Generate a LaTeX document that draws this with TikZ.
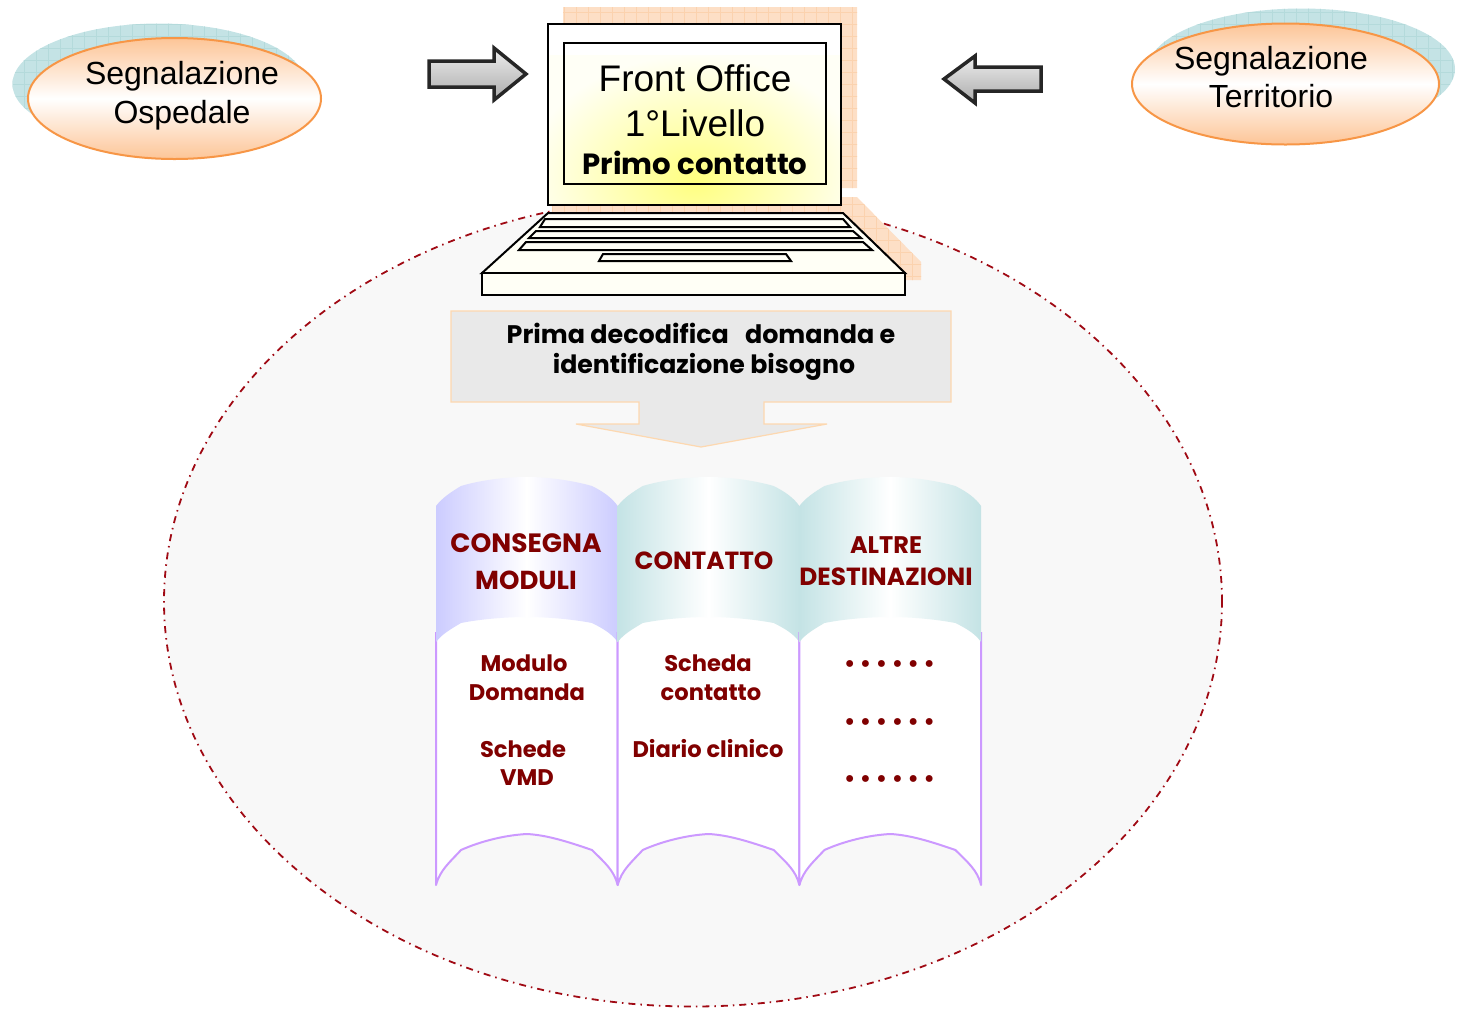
\documentclass[tikz,border=0pt]{standalone}
\usepackage{fontspec}
\setmainfont{Liberation Sans}
\newfontfamily\gothic{Poppins}
\usetikzlibrary{positioning}
\usetikzlibrary{shapes.geometric}
\definecolor{darkred}{HTML}{800000}
\definecolor{dashred}{HTML}{A00A14}
\definecolor{lilac}{HTML}{CC99FF}
\definecolor{periwinkle}{HTML}{CCCCFF}
\definecolor{aqua}{HTML}{C4E3E5}
\definecolor{peach}{HTML}{FDDFC6}
\definecolor{peachline}{HTML}{FBD2AE}
\definecolor{aqualine}{HTML}{B4DADB}
\definecolor{orangeline}{HTML}{F79646}
\definecolor{orangefill}{HTML}{FDC597}
\definecolor{paper}{HTML}{F8F8F8}
\definecolor{boxgray}{HTML}{E9E9E9}
\definecolor{boxline}{HTML}{FDD8B0}
\definecolor{cream}{HTML}{FFFFF6}
\tikzset{
  big/.style={font=\fontsize{37}{37}\selectfont, inner sep=0pt},
  mid/.style={font=\fontsize{32}{32}\selectfont, inner sep=0pt},
  bold/.style={font=\gothic\bfseries\fontsize{#1}{#1}\selectfont, inner sep=0pt},
  entry/.style={bold=22.6, darkred, inner sep=0pt},
  oval/.style={ellipse, draw=orangeline, line width=2pt, top color=orangefill, bottom color=orangefill, middle color=white, inner sep=0pt},
  blockarrow/.style={draw=black!85, line width=3.5pt, miter limit=4, top color=black!7, bottom color=black!33},
  key/.style={draw=black, line width=2pt, fill=cream}
}
\begin{document}
\begin{tikzpicture}[x=1pt, y=-1pt]
  \useasboundingbox (0,0) rectangle (1461,1013);

  % the big dashed area
  \node[ellipse, draw=dashred, line width=1.8pt, dash pattern=on 7pt off 5pt on 1.5pt off 5pt, fill=paper,
        minimum width=1058pt, minimum height=810pt, inner sep=0pt] (area) at (693,601.5) {};

  % left and right ovals
  \foreach \x/\y/\sx/\c/\r/\id in {174.5/98.5/159/84/146.5/ospedale, 1285.5/84/1301.5/69/153.5/territorio} {
    \begin{scope}
      \clip (\sx,\c) ellipse [x radius=\r pt, y radius=60.5pt];
      \fill[aqua] (\sx-160,\c-70) rectangle (\sx+160,\c+70);
      \draw[aqualine, step=12pt, line width=0.5pt] (\sx-160,\c-70) grid (\sx+160,\c+70);
    \end{scope}
    \node[oval, minimum width=2*\r pt, minimum height=121pt] (\id) at (\x,\y) {};
  }
  \node[mid] (ospA) at (182,76) {Segnalazione};
  \node[mid] (ospB) at (182,115) {Ospedale};
  \node[mid] (terA) at (1271,61) {Segnalazione};
  \node[mid] (terB) at (1271,96) {Territorio};

  % arrows
  \path[blockarrow] (429,61) -- (494,61) -- (494,48) -- (526,74) -- (494,100) -- (494,87) -- (429,87) -- cycle;
  \path[blockarrow] (1041,67) -- (975,67) -- (975,56) -- (944,79) -- (975,103) -- (975,91) -- (1041,91) -- cycle;

  % laptop shadow
  \begin{scope}
    \clip (563,7) -| (857,188) -| (841,197) -- (857,197) -- (921,262) -- (921,280) -- (905,280) -- (905,273) -- (835,213) -- (552,213) -- (552,205) -- (841,205) -- (841,24) -- (563,24) -- cycle;
    \fill[peach] (540,0) rectangle (930,290);
    \draw[peachline, step=12pt, line width=0.5pt] (540,0) grid (930,290);
  \end{scope}

  % laptop screen
  \begin{scope}
    \clip (548,24) rectangle (841,205);
    \shade[inner color=yellow!50, outer color=cream] (695-170,180-125) rectangle (695+170,180+125);
  \end{scope}
  \draw[black, line width=2pt] (548,24) rectangle (841,205);
  \draw[black, line width=1.5pt] (564,43) rectangle (826,184);

  \node[big] (front) at (695,78) {Front Office};
  \node[big] (livello) at (695,123) {1°Livello};
  \node[bold=29.2] (primo) at (695,163) {Primo contatto};

  % keyboard
  \path[draw=black, line width=2pt, fill=cream] (548,213) -- (843,213) -- (905,273) -- (482,273) -- cycle;
  \path[draw=black, line width=2pt, fill=cream] (482,273) rectangle (905,295);
  \foreach \ax/\bx/\cx/\dx/\ya/\yb in {545/843/850/540/219/227, 536/853/861/529/231/238, 526/863/872/519/242/250, 603/786/791/599/254/261}
    \path[key] (\ax,\ya) -- (\bx,\ya) -- (\cx,\yb) -- (\dx,\yb) -- cycle;

  % callout
  \path[draw=boxline, line width=1.2pt, fill=boxgray] (451,311) -- (951,311) -- (951,402) -- (764,402) -- (764,424) -- (827,424) -- (701,447) -- (576,424) -- (639,424) -- (639,402) -- (451,402) -- cycle;
  \node[bold=25.4] (decodA) at (701,333) {Prima decodifica\ \ \ domanda e};
  \node[bold=25.2] (decodB) at (704,366.5) {identificazione bisogno};

  % the three pages
  \def\w{181.7};
  \foreach \i/\col in {0/periwinkle, 1/aqua, 2/aqua} {
    \def\dx{\i*\w + 436};
    \fill[white] (\dx,610) -- (\dx+\w,610) -- (\dx+\w,885)
      .. controls (\dx+\w-4,870) and (\dx+\w-14,862) .. (\dx+156,850)
      .. controls (\dx+130,841) and (\dx+110,835) .. (\dx+91,834)
      .. controls (\dx+70,835) and (\dx+45,841) .. (\dx+25,850)
      .. controls (\dx+14,862) and (\dx+4,870) .. (\dx,885) -- cycle;
    \draw[lilac, line width=2pt, line join=round] (\dx,632) -- (\dx,885)
      .. controls (\dx+4,870) and (\dx+14,862) .. (\dx+25,850)
      .. controls (\dx+45,841) and (\dx+70,835) .. (\dx+91,834)
      .. controls (\dx+110,835) and (\dx+130,841) .. (\dx+156,850)
      .. controls (\dx+168,862) and (\dx+178,870) .. (\dx+\w,885) -- (\dx+\w,632);
    \shade[left color=\col, right color=\col, middle color=white]
      (\dx,506) .. controls (\dx+6,498) and (\dx+15,492) .. (\dx+25,486)
      .. controls (\dx+45,480) and (\dx+70,477) .. (\dx+91,477)
      .. controls (\dx+110,477) and (\dx+135,480) .. (\dx+156,486)
      .. controls (\dx+168,492) and (\dx+176,498) .. (\dx+\w,506)
      -- (\dx+\w,642)
      .. controls (\dx+176,634) and (\dx+168,629) .. (\dx+156,623)
      .. controls (\dx+135,619) and (\dx+110,617) .. (\dx+91,617)
      .. controls (\dx+70,617) and (\dx+45,619) .. (\dx+25,623)
      .. controls (\dx+15,629) and (\dx+6,634) .. (\dx,642) -- cycle;
  }

  % page titles
  \foreach \x/\y/\s/\name/\id in {526/543/26.5/CONSEGNA/consegna, 526/580/26/MODULI/moduli, 704/561/24.8/CONTATTO/contatto, 886/545/24/ALTRE/altre, 886/577/24.8/DESTINAZIONI/destinazioni}
    \node[bold=\s, darkred] (\id) at (\x,\y) {\name};

  % page entries
  \foreach \x/\y/\name/\id in {524/663/Modulo/modulo, 527/692.5/Domanda/domanda, 523/749/Schede/schede, 527/778/VMD/vmd, 708/663/Scheda/scheda, 711/692.5/contatto/contattoB, 708/749/Diario clinico/diario}
    \node[entry] (\id) at (\x,\y) {\name};

  \foreach \y/\id in {666/dotsA, 724/dotsB, 781/dotsC}
    \node[entry] (\id) at (889.5,\y) {•\kern4.6pt•\kern4.6pt•\kern4.6pt•\kern4.6pt•\kern4.6pt•};
\end{tikzpicture}
\end{document}
